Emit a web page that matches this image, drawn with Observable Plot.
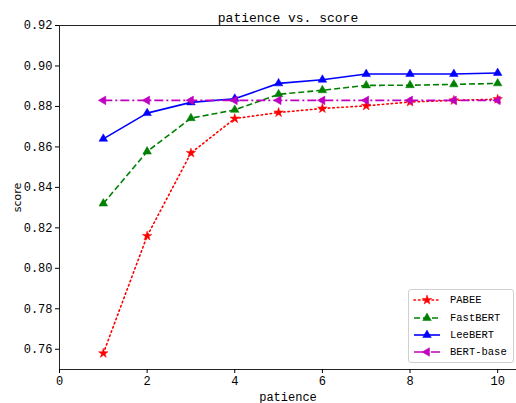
<!DOCTYPE html>
<html>
<head>
<meta charset="utf-8">
<script src="https://cdn.jsdelivr.net/npm/d3@7"></script>
<script src="https://cdn.jsdelivr.net/npm/@observablehq/plot@0.6"></script>
<style>
  html, body { margin: 0; padding: 0; background: #fff; }
  #wrap { position: relative; width: 516px; height: 403px; overflow: hidden; }
  #legend { position: absolute; left: 408px; top: 289px; width: 104px; height: 72px;
    border: 1px solid #d0d0d0; border-radius: 3px; background: rgba(255,255,255,0.9);
    font-family: "Liberation Mono", "DejaVu Sans Mono", monospace; font-size: 10.5px; color: #000; }
  .row { position: absolute; left: 4px; height: 16px; display: flex; align-items: center; }
  .row span { margin-left: 9px; }
</style>
</head>
<body>
<div id="wrap"><div id="chart"></div><div id="legend"></div></div>
<script>
const patience = [1, 2, 3, 4, 5, 6, 7, 8, 9, 10];
const pabee    = [0.758, 0.816, 0.857, 0.874, 0.877, 0.879, 0.8803, 0.8822, 0.8830, 0.8836];
const fastbert = [0.832, 0.8577, 0.8742, 0.8783, 0.8860, 0.8880, 0.8904, 0.8905, 0.8909, 0.8914];
const leebert  = [0.8640, 0.8767, 0.8820, 0.8838, 0.8914, 0.8932, 0.8960, 0.8960, 0.8960, 0.8965];
const bertbase = [0.883, 0.883, 0.883, 0.883, 0.883, 0.883, 0.883, 0.883, 0.883, 0.883];
const seriesNames = ["PABEE", "FastBERT", "LeeBERT", "BERT-base"];
const yTicks = [0.76, 0.78, 0.80, 0.82, 0.84, 0.86, 0.88, 0.90, 0.92];
const xTicks = [0, 2, 4, 6, 8, 10];

const styles = {
  "PABEE":     {color: "#ff0000", dash: "1.5,3", symbol: "star", r: 3, rotate: 0},
  "FastBERT":  {color: "#008000", dash: "6,3", symbol: "triangle", r: 3.2, rotate: 0},
  "LeeBERT":   {color: "#0000ff", dash: null, symbol: "triangle", r: 3.2, rotate: 0},
  "BERT-base": {color: "#bf00bf", dash: "9,3,2,3", symbol: "triangle", r: 3.2, rotate: -90}
};
const valuesBy = {"PABEE": pabee, "FastBERT": fastbert, "LeeBERT": leebert, "BERT-base": bertbase};

const marks = [];
for (const name of seriesNames) {
  const st = styles[name];
  const data = patience.map((p, i) => ({x: p, y: valuesBy[name][i]}));
  marks.push(Plot.line(data, {x: "x", y: "y", stroke: st.color, strokeWidth: 1.6,
    strokeDasharray: st.dash || undefined, strokeLinecap: st.dash === "1.5,3" ? "round" : "butt"}));
  marks.push(Plot.dot(data, {x: "x", y: "y", symbol: st.symbol, r: st.r, fill: st.color,
    stroke: st.color, strokeWidth: 0.5, rotate: st.rotate}));
}

const mono = "'Liberation Mono', 'DejaVu Sans Mono', monospace";
const chart = Plot.plot({
  width: 516, height: 403,
  marginLeft: 59, marginTop: 25, marginBottom: 34, marginRight: 0,
  style: {fontFamily: mono, fontSize: "12px", color: "#000", background: "#fff"},
  x: {domain: [0, 10.43]},
  y: {domain: [0.75, 0.92]},
  marks: [
    Plot.ruleY([0.92], {stroke: "#222", strokeWidth: 1}),
    Plot.ruleY([0.75], {stroke: "#222", strokeWidth: 1}),
    Plot.ruleX([0], {stroke: "#222", strokeWidth: 1}),
    Plot.axisX({ticks: xTicks, tickSize: 4, tickPadding: 3, label: "patience", labelAnchor: "center",
      labelArrow: false, labelOffset: 31, fontSize: 12}),
    Plot.axisY({ticks: yTicks, tickSize: 4, tickPadding: 3, tickFormat: d3.format(".2f"),
      label: "score", labelAnchor: "center", labelArrow: false, labelOffset: 46, fontSize: 12}),
    ...marks,
    Plot.text(["patience vs. score"], {frameAnchor: "top", dy: -13, fontSize: 13, fontFamily: mono})
  ]
});
document.getElementById("chart").appendChild(chart);
d3.select(chart).selectAll("[aria-label='y-axis label'] text").style("font-family", "'DejaVu Sans', sans-serif").style("font-size", "11px");

// legend
const legend = document.getElementById("legend");
const rowTops = [2, 19.5, 36.5, 54];
seriesNames.forEach((name, i) => {
  const st = styles[name];
  const row = document.createElement("div");
  row.className = "row";
  row.style.top = rowTops[i] + "px";
  const svg = d3.create("svg").attr("width", 28).attr("height", 14);
  svg.append("line").attr("x1", 1).attr("x2", 27).attr("y1", 7).attr("y2", 7)
    .attr("stroke", st.color).attr("stroke-width", 1.6)
    .attr("stroke-dasharray", st.dash)
    .attr("stroke-linecap", st.dash === "1.5,3" ? "round" : "butt");
  const sym = st.symbol === "star" ? d3.symbolStar : d3.symbolTriangle;
  const size = Math.PI * st.r * st.r;
  svg.append("path").attr("d", d3.symbol(sym, size)())
    .attr("transform", `translate(14,7) rotate(${st.rotate})`)
    .attr("fill", st.color).attr("stroke", st.color).attr("stroke-width", 0.5);
  row.appendChild(svg.node());
  const label = document.createElement("span");
  label.textContent = name;
  row.appendChild(label);
  legend.appendChild(row);
});
</script>
</body>
</html>
